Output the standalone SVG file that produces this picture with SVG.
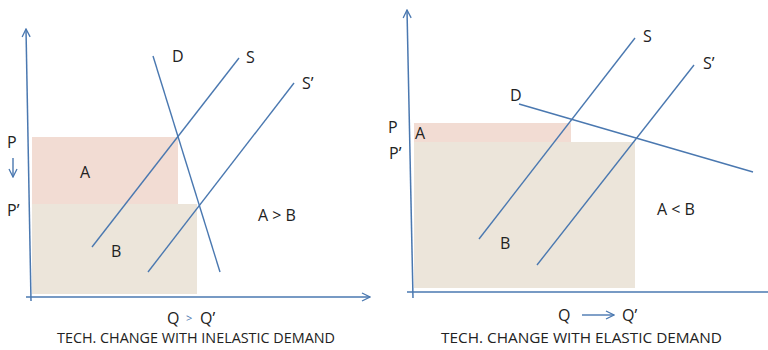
<svg xmlns="http://www.w3.org/2000/svg" width="768" height="350" viewBox="0 0 768 350">
<style>
.ax{stroke:#4a78b0;stroke-width:1.5;fill:none}
.ln{stroke:#4a78b0;stroke-width:1.4;fill:none}
.t{font-family:"Open Sans","Liberation Sans",sans-serif;font-size:16px;fill:#222}
.cap{font-family:"Open Sans","Liberation Sans",sans-serif;font-size:14.5px;fill:#222}
.a{fill:#f2dcd3}
.b{fill:#ece5da}
</style>
<defs>
<marker id="arr" viewBox="0 0 10 10" refX="9" refY="5" markerWidth="10" markerHeight="10" markerUnits="userSpaceOnUse" orient="auto">
<polyline points="1,1 9,5 1,9" fill="none" stroke="#4a78b0" stroke-width="1.3"/>
</marker>
</defs>
<g id="left-panel">
<g id="left-areas">
<rect class="a" x="32" y="137" width="146" height="67"/>
<rect class="b" x="32" y="204" width="165" height="90"/>
</g>
<g id="left-connectors">
<line class="ax" x1="31" y1="301" x2="26" y2="29" marker-end="url(#arr)"/>
<line class="ax" x1="26" y1="297" x2="370" y2="297" marker-end="url(#arr)"/>
<line class="ln" x1="153" y1="56" x2="220" y2="272"/>
<line class="ln" x1="239" y1="58" x2="92" y2="247"/>
<line class="ln" x1="294" y1="83" x2="148" y2="272"/>
<line class="ln" x1="13" y1="158" x2="13" y2="177" marker-end="url(#arr)"/>
</g>
<g id="left-labels">
<text class="t" x="172" y="62">D</text>
<text class="t" x="246" y="63">S</text>
<text class="t" x="302" y="89">S’</text>
<text class="t" x="7" y="148">P</text>
<text class="t" x="7" y="216">P’</text>
<text class="t" x="80" y="178">A</text>
<text class="t" x="111" y="257">B</text>
<text class="t" x="258" y="221">A &gt; B</text>
<text class="t" x="167" y="324">Q</text>
<text class="t" x="186" y="322" style="fill:#4a78b0;font-size:11px">&gt;</text>
<text class="t" x="200" y="324">Q’</text>
<text class="cap" x="57" y="343" textLength="278" lengthAdjust="spacingAndGlyphs">TECH. CHANGE WITH INELASTIC DEMAND</text>
</g>
</g>
<g id="right-panel">
<g id="right-areas">
<rect class="a" x="414" y="123" width="157" height="19"/>
<rect class="b" x="414" y="142" width="221" height="146"/>
</g>
<g id="right-connectors">
<line class="ax" x1="413" y1="298" x2="407" y2="10" marker-end="url(#arr)"/>
<line class="ax" x1="407" y1="292" x2="770" y2="292"/>
<line class="ln" x1="519" y1="104" x2="753" y2="172"/>
<line class="ln" x1="635" y1="38" x2="479" y2="239"/>
<line class="ln" x1="694" y1="65" x2="537" y2="265"/>
<line class="ln" x1="582" y1="315" x2="614" y2="315" marker-end="url(#arr)"/>
</g>
<g id="right-labels">
<text class="t" x="510" y="101">D</text>
<text class="t" x="643" y="42">S</text>
<text class="t" x="703" y="69">S’</text>
<text class="t" x="388" y="133">P</text>
<text class="t" x="415" y="139">A</text>
<text class="t" x="389" y="159">P’</text>
<text class="t" x="657" y="215">A &lt; B</text>
<text class="t" x="500" y="249">B</text>
<text class="t" x="558" y="321">Q</text>
<text class="t" x="622" y="321">Q’</text>
<text class="cap" x="441" y="343" textLength="281" lengthAdjust="spacingAndGlyphs">TECH. CHANGE WITH ELASTIC DEMAND</text>
</g>
</g>
</svg>
